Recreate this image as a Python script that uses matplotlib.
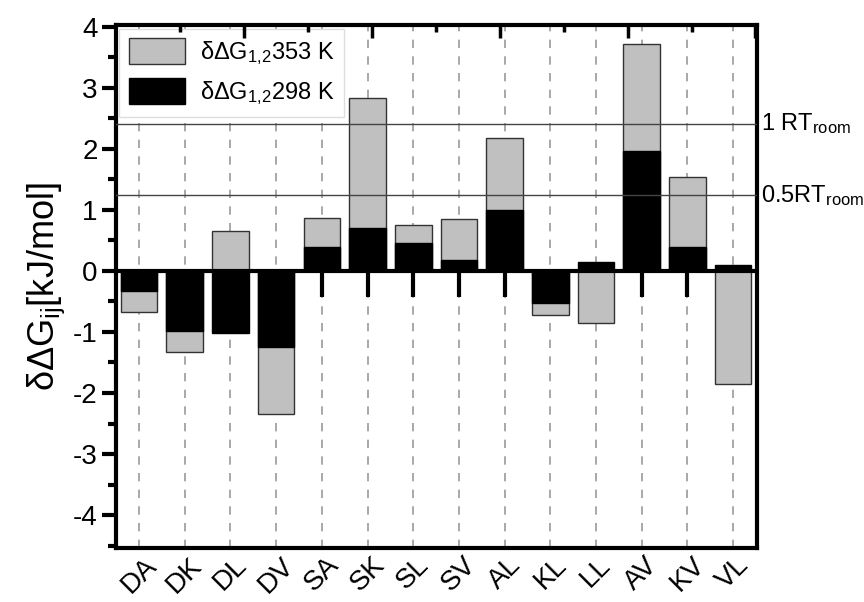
import matplotlib
matplotlib.use('Agg')
import matplotlib.pyplot as plt
import numpy as np

plt.rcParams['font.family'] = ['Liberation Sans', 'DejaVu Sans']
plt.rcParams['mathtext.fontset'] = 'custom'
plt.rcParams['mathtext.rm'] = 'Liberation Sans'
plt.rcParams['mathtext.it'] = 'Liberation Sans:italic'
plt.rcParams['mathtext.default'] = 'regular'
plt.rcParams['axes.unicode_minus'] = False

pairs = ['DA', 'DK', 'DL', 'DV', 'SA', 'SK', 'SL', 'SV', 'AL', 'KL', 'LL', 'AV', 'KV', 'VL']
ddg_353 = [-0.68, -1.33, 0.65, -2.35, 0.87, 2.83, 0.75, 0.85, 2.17, -0.73, -0.86, 3.72, 1.54, -1.85]
ddg_298 = [-0.33, -0.98, -1.01, -1.25, 0.40, 0.70, 0.46, 0.18, 1.00, -0.52, 0.15, 1.96, 0.40, 0.09]
rt_room = 2.41
half_rt_room = 1.24

x = np.arange(len(pairs))

fig = plt.figure(figsize=(8.64, 6.02), dpi=100)
ax = fig.add_axes([0.134, 0.0897, 0.742, 0.8688])

# category guide lines behind the bars
for xi in x:
    ax.axvline(xi, color='#999999', lw=1.2, ls=(0, (5, 5)), zorder=0)

ax.bar(x, ddg_353, width=0.8, color='#c0c0c0', edgecolor='#333333', lw=1.0,
       label=r'δΔG$_{1{,}2}$353 K', zorder=2)
ax.bar(x, ddg_298, width=0.8, color='black', edgecolor='black', lw=1.0,
       label=r'δΔG$_{1{,}2}$298 K', zorder=3)

ax.axhline(rt_room, color='#444444', lw=1.0, zorder=4)
ax.axhline(half_rt_room, color='#444444', lw=1.0, zorder=4)
ax.text(13.62, rt_room, r'1 RT$_{room}$', fontsize=17, va='center', ha='left')
ax.text(13.62, half_rt_room, r'0.5RT$_{room}$', fontsize=17, va='center', ha='left')

ax.set_xlim(-0.51, 13.52)
ax.set_ylim(-4.54, 4.03)

for s in ax.spines.values():
    s.set_linewidth(3)

ax.set_yticks(np.arange(-4, 5, 1))
ax.set_yticks(np.arange(-4.5, 4.01, 0.5), minor=True)
ax.tick_params(axis='y', which='major', direction='out', length=10, width=3,
               labelsize=20, pad=3)
ax.tick_params(axis='y', which='minor', direction='out', length=6, width=3)
ax.set_xticks(x)
ax.set_xticklabels(pairs, rotation=45, ha='center', va='top')
ax.tick_params(axis='x', which='both', length=0, labelsize=20, pad=3)
ax.set_ylabel(r'δΔG$_{ij}$[kJ/mol]', fontsize=26, labelpad=4)

# zero axis: thick line with ticks hanging below at each pair
ax.axhline(0, color='black', lw=3, zorder=5)
ylo, yhi = ax.get_ylim()
zero_frac = (0 - ylo) / (yhi - ylo)
zax = ax.secondary_xaxis(zero_frac)
zax.set_xticks(x)
zax.set_xticklabels([])
zax.tick_params(direction='in', length=19, width=3)
zax.spines['bottom'].set_visible(False)
zax.spines['top'].set_visible(False)

# top axis ticks
tax = ax.twiny()
tax.set_xlim(ax.get_xlim())
tax.set_xticks(np.arange(2.29, 13.5, 2.8))
tax.set_xticks(np.arange(0.89, 13.5, 2.8), minor=True)
tax.tick_params(which='major', direction='in', length=9, width=2.5, labeltop=False)
tax.tick_params(which='minor', direction='in', length=5, width=2.5)
for s in tax.spines.values():
    s.set_visible(False)

leg = ax.legend(loc='upper left', fontsize=17, frameon=True, fancybox=False,
                edgecolor='#dddddd', framealpha=1, handlelength=2.4, handleheight=1.3,
                borderaxespad=0.15, labelspacing=0.5, handletextpad=0.6)
leg.get_frame().set_linewidth(1)
leg.set_zorder(6)

fig.savefig('out.png', dpi=100)
